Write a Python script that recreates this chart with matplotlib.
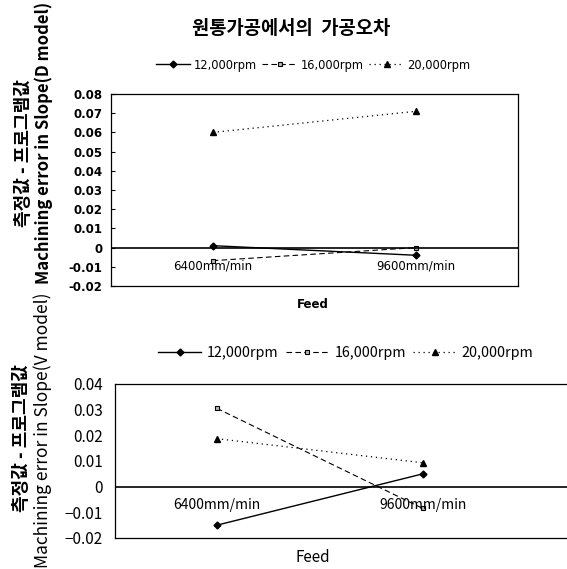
import matplotlib
matplotlib.use("Agg")
import matplotlib.pyplot as plt

plt.rcParams['font.family'] = ['Noto Sans CJK KR', 'DejaVu Sans']

categories = ["6400mm/min", "9600mm/min"]
series_names = ["12,000rpm", "16,000rpm", "20,000rpm"]

# Top panel (D model)
d_12000 = [0.001, -0.004]
d_16000 = [-0.0068, 0.0]
d_20000 = [0.060, 0.071]

# Bottom panel (V model)
v_12000 = [-0.015, 0.005]
v_16000 = [0.0305, -0.0085]
v_20000 = [0.0187, 0.0093]

top_yticks = [0.08, 0.07, 0.06, 0.05, 0.04, 0.03, 0.02, 0.01, 0, -0.01, -0.02]
top_yticklabels = ["0.08", "0.07", "0.06", "0.05", "0.04", "0.03", "0.02", "0.01", "0", "-0.01", "-0.02"]
bot_yticks = [0.04, 0.03, 0.02, 0.01, 0, -0.01, -0.02]
bot_yticklabels = ["0.04", "0.03", "0.02", "0.01", "0", "\u22120.01", "\u22120.02"]

title = "원통가공에서의  가공오차"
ylabel_kr = "측정값 - 프로그램값"
ylabel_top = "Machining error in Slope(D model)"
ylabel_bot = "Machining error in Slope(V model)"
xlabel = "Feed"

W, H = 567, 569
fig = plt.figure(figsize=(W / 100, H / 100), dpi=100)

def fx(px):
    return px / W

def fy(py):
    return 1 - py / H

styles = [
    dict(color="black", linestyle="-", marker="D", markersize=3.5, lw=1.0,
         markerfacecolor="black"),
    dict(color="black", linestyle=(0, (5, 3)), marker="s", markersize=3.5, lw=0.8,
         markerfacecolor="#bbbbbb", markeredgecolor="black", markeredgewidth=0.8),
    dict(color="black", linestyle=(0, (1, 3)), marker="^", markersize=4.5, lw=0.9,
         markerfacecolor="black"),
]

x = list(range(len(categories)))

# ---------- Top panel ----------
ax1 = fig.add_axes([fx(111), fy(286), fx(518 - 111), (286 - 94) / H])
for name, vals, st in zip(series_names, [d_12000, d_16000, d_20000], styles):
    ax1.plot(x, vals, label=name, **st)
ax1.axhline(0, color="black", lw=1.2)
ax1.set_xlim(-0.5, 1.5)
ax1.set_ylim(-0.02, 0.08)
ax1.set_yticks(top_yticks)
ax1.set_yticklabels(top_yticklabels, fontsize=8.5, fontweight="bold", family="DejaVu Sans")
ax1.set_xticks([])
ax1.tick_params(axis="y", direction="in", length=3, width=0.8, pad=6)
for s in ax1.spines.values():
    s.set_linewidth(0.9)
for i, c in enumerate(categories):
    ax1.text(i, -0.006, c, ha="center", va="top", fontsize=8.5, family="DejaVu Sans")
fig.text(fx(313), fy(305), xlabel, ha="center", va="center", fontsize=8.5, fontweight="bold",
         family="DejaVu Sans")
fig.text(fx(291), fy(28), title, ha="center", va="center", fontsize=13.5, fontweight="bold")
fig.legend(*ax1.get_legend_handles_labels(), loc="center", bbox_to_anchor=(fx(313), fy(65)),
           ncol=3, frameon=False, handlelength=3.0, columnspacing=0.5,
           handletextpad=0.3, prop={"family": "DejaVu Sans", "size": 8.3})
fig.text(fx(24), fy(153), ylabel_kr, rotation=90, ha="center", va="center", fontsize=13,
         fontweight="bold")
fig.text(fx(44), fy(143), ylabel_top, rotation=90, ha="center", va="center", fontsize=12,
         fontweight="bold")

# ---------- Bottom panel ----------
ax2 = fig.add_axes([fx(115), fy(538), 1 - fx(115), (538 - 384) / H])
for name, vals, st in zip(series_names, [v_12000, v_16000, v_20000], styles):
    ax2.plot(x, vals, label=name, **st)
ax2.axhline(0, color="black", lw=1.2)
ax2.set_xlim(-0.495, 1.70)
ax2.set_ylim(-0.02, 0.04)
ax2.set_yticks(bot_yticks)
ax2.set_yticklabels(bot_yticklabels, fontsize=11)
ax2.set_xticks([])
ax2.tick_params(axis="y", direction="in", length=0, pad=9)
ax2.spines["right"].set_visible(False)
for s in ax2.spines.values():
    s.set_linewidth(0.9)
for i, c in enumerate(categories):
    ax2.text(i, -0.0043, c, ha="center", va="top", fontsize=10)
fig.text(fx(313), fy(558), xlabel, ha="center", va="center", fontsize=11)
fig.legend(*ax2.get_legend_handles_labels(), loc="center", bbox_to_anchor=(fx(346), fy(353)),
           ncol=3, frameon=False, fontsize=10.3, handlelength=3.0, columnspacing=0.5,
           handletextpad=0.4)
fig.text(fx(22), fy(438), ylabel_kr, rotation=90, ha="center", va="center", fontsize=13,
         fontweight="bold")
fig.text(fx(43), fy(430), ylabel_bot, rotation=90, ha="center", va="center", fontsize=12.5)

fig.savefig("out.png", dpi=100)
